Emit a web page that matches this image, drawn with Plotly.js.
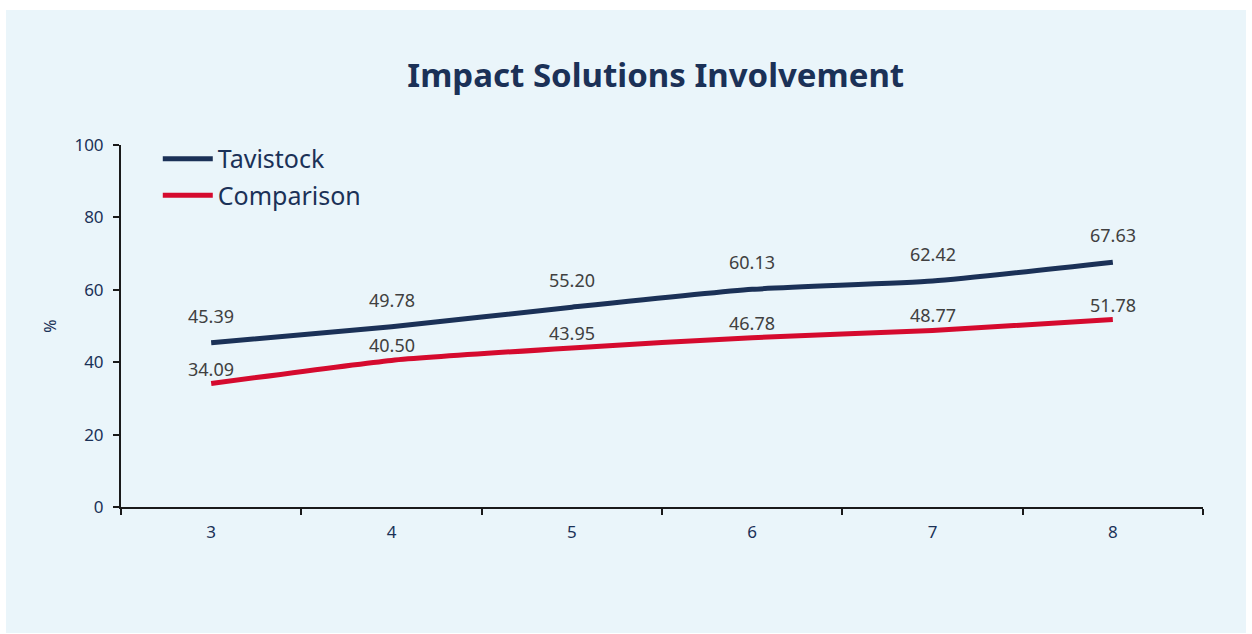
<!DOCTYPE html>
<html>
<head>
<meta charset="utf-8">
<script src="https://cdn.plot.ly/plotly-3.0.1.min.js"></script>
<style>
  html, body { margin: 0; padding: 0; background: #ffffff; }
  #chart { position: absolute; left: 6px; top: 10px; width: 1240px; height: 623px; }
</style>
</head>
<body>
<div id="chart"></div>
<script>
// Years of involvement shown along the x axis
const categories = ['3', '4', '5', '6', '7', '8'];
// Share of respondents (%) per group
const tavistock = [45.39, 49.78, 55.20, 60.13, 62.42, 67.63];
const comparison = [34.09, 40.50, 43.95, 46.78, 48.77, 51.78];
const seriesNames = ['Tavistock', 'Comparison'];

const navy = '#1B3157';
const red = '#D50A2E';
const labelFont = { family: 'Noto Sans, Open Sans, sans-serif', size: 18, color: '#404040' };

function lineTrace(name, values, color, group) {
  return {
    type: 'scatter',
    mode: 'lines',
    name: name,
    legendgroup: group,
    x: categories,
    y: values,
    line: { color: color, width: 5, shape: 'spline', smoothing: 0.5 },
    hoverinfo: 'x+y+name'
  };
}

// value labels sit above each point; category axes place annotations by index
function valueLabels(values, shift) {
  return values.map((v, i) => ({
    x: i,
    y: v,
    xref: 'x',
    yref: 'y',
    text: v.toFixed(2),
    showarrow: false,
    yanchor: 'middle',
    yshift: shift,
    font: labelFont
  }));
}

const data = [
  lineTrace(seriesNames[0], tavistock, navy, 'a'),
  lineTrace(seriesNames[1], comparison, red, 'b')
];

const tickFont = { family: 'Noto Sans, sans-serif', size: 17, color: navy };

const layout = {
  width: 1240,
  height: 623,
  paper_bgcolor: '#EAF5FA',
  plot_bgcolor: '#EAF5FA',
  margin: { l: 115, r: 43, t: 135, b: 126 },
  title: {
    text: '<b>Impact Solutions Involvement</b>',
    x: 0.524,
    xanchor: 'center',
    y: 0.895,
    yanchor: 'middle',
    font: { family: 'Noto Sans, sans-serif', size: 33, color: navy }
  },
  showlegend: true,
  legend: {
    x: 0.034,
    y: 1.025,
    xanchor: 'left',
    yanchor: 'top',
    bgcolor: 'rgba(0,0,0,0)',
    font: { family: 'Noto Sans, sans-serif', size: 25, color: navy },
    traceorder: 'grouped',
    tracegroupgap: 1,
    itemwidth: 50
  },
  xaxis: {
    type: 'category',
    range: [-0.5, 5.5],
    tickson: 'boundaries',
    ticks: 'outside',
    ticklen: 6,
    tickwidth: 2,
    tickcolor: '#1a1a1a',
    showline: true,
    linecolor: '#1a1a1a',
    linewidth: 2,
    showgrid: false,
    zeroline: false,
    tickfont: tickFont,
    ticklabelstandoff: 9,
    fixedrange: true
  },
  yaxis: {
    range: [0, 100],
    dtick: 20,
    ticks: 'outside',
    ticklen: 6,
    tickwidth: 2,
    tickcolor: '#1a1a1a',
    showline: true,
    linecolor: '#1a1a1a',
    linewidth: 2,
    showgrid: false,
    zeroline: false,
    tickfont: tickFont,
    ticklabelstandoff: 6,
    title: { text: '%', standoff: 14, font: { family: 'Noto Sans, sans-serif', size: 16, color: navy } },
    fixedrange: true
  },
  annotations: valueLabels(tavistock, 27).concat(valueLabels(comparison, 15))
};

Plotly.newPlot('chart', data, layout, { displayModeBar: false, staticPlot: true });
</script>
</body>
</html>
